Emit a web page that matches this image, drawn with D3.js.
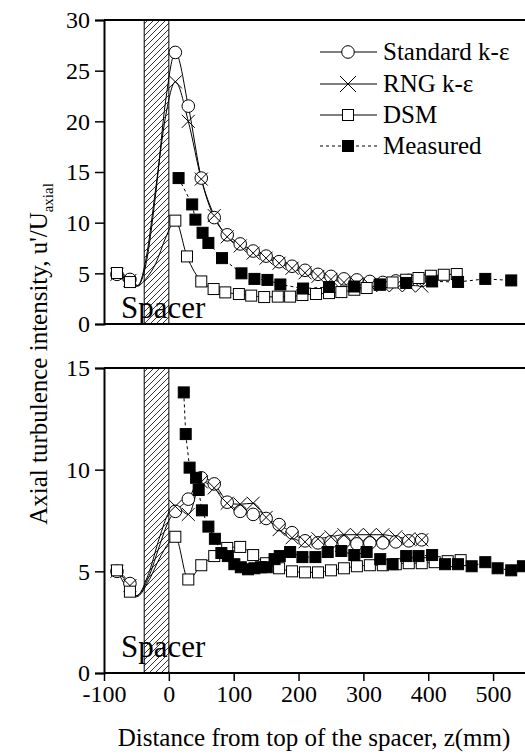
<html>
<head>
<meta charset="utf-8">
<script src="https://d3js.org/d3.v7.min.js"></script>
<style>
  body { margin: 0; background: #fff; }
  svg text { font-family: "Liberation Serif", "DejaVu Serif", serif; fill: #000; }
</style>
</head>
<body>
<svg id="chart" width="525" height="755" font-family="Liberation Serif, DejaVu Serif, serif"></svg>
<script>
// ---- data ----
const Z_TICKS = [-100, 0, 100, 200, 300, 400, 500];
const TOP_TICKS = [0, 5, 10, 15, 20, 25, 30];
const BOT_TICKS = [0, 5, 10, 15];
const SPACER = [-38, 0];

// top panel
const stdTop = [[-80,4.9],[-60,4.4],[10,26.8],[30,21.5],[50,14.4],[70,10.5],[90,8.8],[110,7.9],[130,7.2],[150,6.7],[170,6.15],[190,5.7],[210,5.3],[230,4.9],[250,4.7],[270,4.45],[290,4.35],[310,4.2],[330,4.1],[350,4.25],[370,4.3],[390,4.3]];
const rngTop = [[-80,4.9],[-60,4.3],[10,23.9],[30,20.0],[50,14.3],[70,10.7],[90,8.6],[110,7.7],[130,7.0],[150,6.5],[170,6.0],[190,5.5],[210,5.05],[230,4.7],[250,4.4],[270,4.1],[290,3.95],[310,3.85],[330,3.8],[350,3.8],[370,3.8],[390,3.75]];
const dsmTop = [[-80,5.03],[-60,4.14],[10,10.2],[28,6.67],[50,4.2],[69,3.45],[87,3.12],[108,2.96],[127,2.8],[147,2.66],[168,2.7],[187,2.7],[206,2.86],[227,2.96],[247,3.05],[266,3.15],[286,3.38],[305,3.55],[325,3.87],[345,4.1],[366,4.37],[385,4.54],[404,4.76],[424,4.86],[444,4.93]];
const measTop = [[15,14.4],[36,11.8],[41,10.3],[52,9.0],[61,8.0],[82,6.5],[112,5.0],[132,4.45],[152,4.35],[172,3.9],[207,3.5],[247,3.65],[286,3.7],[326,3.9],[366,4.05],[406,4.2],[446,4.15],[488,4.45],[528,4.3]];
// unmarked curve nodes across the spacer
const stdTopIn = [[-48,3.8],[-35,6],[-20,13],[-5,22]];
const rngTopIn = [[-48,3.8],[-35,6.5],[-20,13.5],[-5,20.5]];
const dsmTopIn = [[-50,3.7],[-35,4.5],[-20,6],[-5,8.5]];

// bottom panel
const stdBot = [[-80,5.0],[-60,4.4],[10,7.95],[30,8.55],[50,9.6],[70,9.3],[90,8.4],[110,7.95],[130,7.8],[150,7.6],[170,7.3],[190,6.9],[210,6.5],[230,6.4],[250,6.45],[270,6.45],[290,6.35],[310,6.4],[330,6.4],[350,6.45],[370,6.5],[390,6.55]];
const rngBot = [[-80,5.0],[-60,4.3],[10,8.2],[30,7.8],[50,9.4],[70,9.1],[90,8.35],[110,8.3],[130,8.35],[150,7.65],[170,7.05],[190,6.65],[210,6.45],[230,6.6],[250,6.7],[270,6.8],[290,6.8],[310,6.8],[330,6.8],[350,6.7],[370,6.6],[390,6.55]];
const dsmBot = [[-80,5.05],[-60,4.0],[10,6.7],[30,4.6],[50,5.3],[70,5.75],[90,6.15],[110,6.2],[130,5.8],[150,5.4],[170,5.15],[190,5.0],[210,4.95],[230,4.95],[250,5.05],[270,5.15],[290,5.25],[310,5.3],[330,5.3],[350,5.35],[370,5.4],[390,5.4],[410,5.45],[430,5.5],[450,5.55]];
const measBot = [[23,13.8],[26,11.75],[32,10.1],[42,9.6],[46,9.0],[51,8.0],[61,7.2],[71,6.6],[81,5.9],[91,5.75],[101,5.35],[111,5.2],[122,5.1],[132,5.15],[142,5.2],[151,5.2],[163,5.6],[171,5.75],[187,5.95],[206,5.7],[226,5.7],[245,5.95],[266,6.0],[286,5.8],[305,5.95],[326,5.6],[345,5.35],[366,5.75],[385,5.75],[406,5.8],[426,5.35],[446,5.35],[467,5.25],[488,5.45],[507,5.15],[528,5.05],[546,5.25]];
const stdBotIn = [[-50,3.8],[-30,4.8],[-15,6.2],[0,7.5]];
const rngBotIn = [[-50,3.8],[-30,5.0],[-15,6.6],[0,7.9]];
const dsmBotIn = [[-50,3.75],[-30,4.6],[-15,5.6],[0,6.4]];

const legendNames = ["Standard k-\u03b5", "RNG k-\u03b5", "DSM", "Measured"];

// ---- layout ----
const FONT = "Liberation Serif, DejaVu Serif, serif";
const svg = d3.select("#chart");
const x = d3.scaleLinear().domain([-100, 550]).range([104, 525.5]);
const yTop = d3.scaleLinear().domain([0, 30]).range([324, 20]);
const yBot = d3.scaleLinear().domain([0, 15]).range([673, 368]);
const fmt = d => d < 0 ? "-" + Math.abs(d) : String(d);

// hatch pattern
const defs = svg.append("defs");
defs.append("pattern")
  .attr("id", "hatch").attr("patternUnits", "userSpaceOnUse")
  .attr("width", 6).attr("height", 6)
  .append("path")
  .attr("d", "M0,6 L6,0 M-1,1 L1,-1 M5,7 L7,5")
  .attr("stroke", "#000").attr("stroke-width", 0.8);

function cross(g, cx, cy, s) {
  g.append("path")
    .attr("d", "M"+(cx-s)+","+(cy-s)+"L"+(cx+s)+","+(cy+s)+"M"+(cx-s)+","+(cy+s)+"L"+(cx+s)+","+(cy-s))
    .attr("stroke", "#000").attr("stroke-width", 1).attr("fill", "none");
}

function panel(y, ticks, series, spacerLabelY) {
  const g = svg.append("g");
  const y0 = y.range()[0], y1 = y.range()[1];

  // spacer
  g.append("rect")
    .attr("x", x(SPACER[0])).attr("y", y1)
    .attr("width", x(SPACER[1]) - x(SPACER[0])).attr("height", y0 - y1)
    .attr("fill", "url(#hatch)").attr("stroke", "#000").attr("stroke-width", 1);

  const curve = d3.line().x(d => x(d[0])).y(d => y(d[1])).curve(d3.curveMonotoneX);
  const straight = d3.line().x(d => x(d[0])).y(d => y(d[1]));

  // simulation curves
  [[series.std, series.stdIn], [series.rng, series.rngIn], [series.dsm, series.dsmIn]].forEach(s => {
    const pts = s[0].concat(s[1]).sort((a, b) => a[0] - b[0]);
    g.append("path").datum(pts)
      .attr("d", curve).attr("fill", "none")
      .attr("stroke", "#000").attr("stroke-width", 1);
  });
  // measured dashed
  g.append("path").datum(series.meas)
    .attr("d", straight).attr("fill", "none")
    .attr("stroke", "#000").attr("stroke-width", 1).attr("stroke-dasharray", "3,3");

  // markers
  g.selectAll(".std").data(series.std).enter().append("circle")
    .attr("cx", d => x(d[0])).attr("cy", d => y(d[1])).attr("r", 6.3)
    .attr("fill", "#fff").attr("stroke", "#000").attr("stroke-width", 1);
  series.rng.forEach(d => cross(g, x(d[0]), y(d[1]), 6.5));
  g.selectAll(".dsm").data(series.dsm).enter().append("rect")
    .attr("x", d => x(d[0]) - 5.5).attr("y", d => y(d[1]) - 5.5)
    .attr("width", 11).attr("height", 11)
    .attr("fill", "#fff").attr("stroke", "#000").attr("stroke-width", 1);
  g.selectAll(".meas").data(series.meas).enter().append("rect")
    .attr("x", d => x(d[0]) - 5.5).attr("y", d => y(d[1]) - 5.5)
    .attr("width", 11).attr("height", 11)
    .attr("fill", "#000").attr("stroke", "#000").attr("stroke-width", 1);

  // Spacer label
  g.append("text").attr("x", 121).attr("y", spacerLabelY)
    .attr("font-family", FONT).attr("font-size", 31).text("Spacer");

  // frame
  g.append("line").attr("x1", 104).attr("x2", 525).attr("y1", y1).attr("y2", y1)
    .attr("stroke", "#000").attr("stroke-width", 2);
  g.append("line").attr("x1", 104).attr("x2", 525).attr("y1", y0).attr("y2", y0)
    .attr("stroke", "#000").attr("stroke-width", 2);

  // y axis
  const ax = g.append("g").attr("transform", "translate(104,0)")
    .call(d3.axisLeft(y).tickValues(ticks).tickSize(9).tickPadding(5).tickFormat(fmt));
  ax.attr("font-family", FONT).attr("font-size", 24);
  ax.select(".domain").attr("stroke-width", 2);
  ax.selectAll(".tick line").attr("stroke-width", 1.5);
  ax.selectAll("text").attr("fill", "#000");
  return g;
}

panel(yTop, TOP_TICKS,
  {std: stdTop, stdIn: stdTopIn, rng: rngTop, rngIn: rngTopIn, dsm: dsmTop, dsmIn: dsmTopIn, meas: measTop}, 318);
panel(yBot, BOT_TICKS,
  {std: stdBot, stdIn: stdBotIn, rng: rngBot, rngIn: rngBotIn, dsm: dsmBot, dsmIn: dsmBotIn, meas: measBot}, 657);

// x axis (bottom panel)
const xa = svg.append("g").attr("transform", "translate(0,673)")
  .call(d3.axisBottom(x).tickValues(Z_TICKS).tickSize(8).tickPadding(4).tickFormat(fmt));
xa.attr("font-family", FONT).attr("font-size", 24);
xa.select(".domain").remove();
xa.selectAll(".tick line").attr("stroke-width", 1.5);
xa.selectAll("text").attr("fill", "#000");

// axis titles
svg.append("text").attr("x", 314).attr("y", 746)
  .attr("text-anchor", "middle").attr("font-family", FONT).attr("font-size", 25)
  .text("Distance from top of the spacer, z(mm)");

const yt = svg.append("text")
  .attr("transform", "translate(47,354) rotate(-90)")
  .attr("text-anchor", "middle").attr("font-family", FONT).attr("font-size", 25);
yt.append("tspan").text("Axial turbulence intensity, u'/U");
yt.append("tspan").attr("dy", 6).attr("font-size", 15).text("axial");

// legend
const lg = svg.append("g");
const rows = [52, 84, 115, 146];
rows.forEach((ry, i) => {
  lg.append("line").attr("x1", 320).attr("x2", 377).attr("y1", ry).attr("y2", ry)
    .attr("stroke", "#000").attr("stroke-width", 1)
    .attr("stroke-dasharray", i === 3 ? "3,3" : null);
  if (i === 0) {
    lg.append("circle").attr("cx", 348).attr("cy", ry).attr("r", 6.3)
      .attr("fill", "#fff").attr("stroke", "#000");
  } else if (i === 1) {
    cross(lg, 348, ry, 8);
  } else {
    lg.append("rect").attr("x", 342.5).attr("y", ry - 5.5).attr("width", 11).attr("height", 11)
      .attr("fill", i === 2 ? "#fff" : "#000").attr("stroke", "#000");
  }
  lg.append("text").attr("x", 383).attr("y", ry + 8)
    .attr("font-family", FONT).attr("font-size", 25).text(legendNames[i]);
});
</script>
</body>
</html>
